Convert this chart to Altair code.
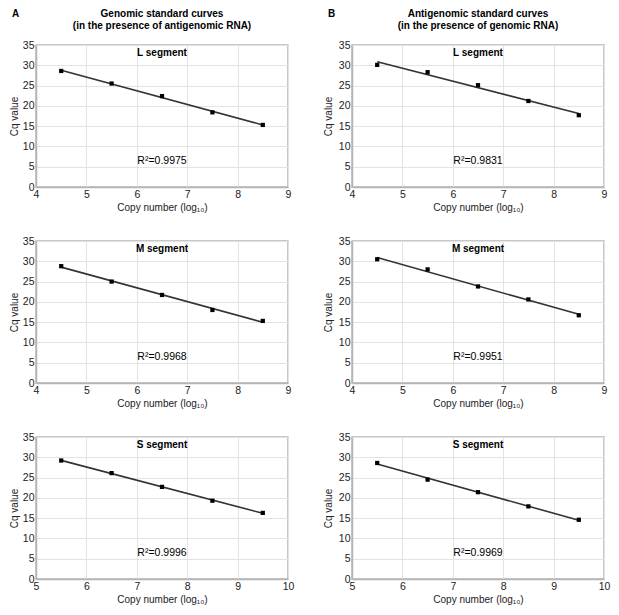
import altair as alt
import pandas as pd

x_lm = [4.5, 5.5, 6.5, 7.5, 8.5]
x_s = [5.5, 6.5, 7.5, 8.5, 9.5]

gen_L = [28.6, 25.5, 22.4, 18.4, 15.3]
gen_M = [28.8, 25.0, 21.7, 18.0, 15.3]
gen_S = [29.2, 26.1, 22.7, 19.3, 16.3]
anti_L = [30.1, 28.3, 25.1, 21.2, 17.7]
anti_M = [30.5, 28.0, 23.8, 20.6, 16.7]
anti_S = [28.6, 24.5, 21.4, 17.9, 14.6]

r2_gen = ["R²=0.9975", "R²=0.9968", "R²=0.9996"]
r2_anti = ["R²=0.9831", "R²=0.9951", "R²=0.9969"]
segments = ["L segment", "M segment", "S segment"]

head_A = ["Genomic standard curves", "(in the presence of antigenomic RNA)"]
head_B = ["Antigenomic standard curves", "(in the presence of genomic RNA)"]

FONT = "Liberation Sans"
H = 142


def panel(xs, ys, seg, r2, xdom, width, ytp, header=None, letter=None):
    df = pd.DataFrame({"x": xs, "y": ys})
    base = alt.Chart(df)
    xenc = alt.X("x:Q", scale=alt.Scale(domain=xdom, nice=False),
                 axis=alt.Axis(title="Copy number (log₁₀)", values=list(range(xdom[0], xdom[1] + 1))))
    yenc = alt.Y("y:Q", scale=alt.Scale(domain=[0, 35], nice=False),
                 axis=alt.Axis(title="Cq value", values=list(range(0, 36, 5)), titlePadding=ytp))
    line = base.transform_regression("x", "y").mark_line(color="#333333", strokeWidth=1.6).encode(x=xenc, y=yenc)
    pts = base.mark_square(size=18, color="black", opacity=1).encode(x=xenc, y=yenc)
    seg_t = alt.Chart(pd.DataFrame({"t": [seg]})).mark_text(
        font=FONT, fontWeight="bold", fontSize=10, baseline="middle"
    ).encode(text="t:N", x=alt.value(width / 2), y=alt.value(8))
    r2_t = alt.Chart(pd.DataFrame({"t": [r2]})).mark_text(
        font=FONT, fontSize=10.5, baseline="middle"
    ).encode(text="t:N", x=alt.value(width / 2), y=alt.value(116))
    layers = [line, pts, seg_t, r2_t]
    if header is not None:
        for txt, yy in zip(header, [-31, -19]):
            hd = alt.Chart(pd.DataFrame({"t": [txt]})).mark_text(
                font=FONT, fontWeight="bold", fontSize=10, baseline="middle"
            ).encode(text="t:N", x=alt.value(width / 2), y=alt.value(yy))
            layers.append(hd)
    if letter is not None:
        lt = alt.Chart(pd.DataFrame({"t": [letter]})).mark_text(
            font=FONT, fontWeight="bold", fontSize=10, baseline="middle", align="left"
        ).encode(text="t:N", x=alt.value(-24), y=alt.value(-31))
        layers.append(lt)
    return alt.layer(*layers).properties(width=width, height=H)


WA, WB = 252, 252

colA = alt.vconcat(
    panel(x_lm, gen_L, segments[0], r2_gen[0], [4, 9], WA, 3, head_A, "A"),
    panel(x_lm, gen_M, segments[1], r2_gen[1], [4, 9], WA, 3),
    panel(x_s, gen_S, segments[2], r2_gen[2], [5, 10], WA, 3),
    spacing=21,
)
colB = alt.vconcat(
    panel(x_lm, anti_L, segments[0], r2_anti[0], [4, 9], WB, 5, head_B, "B"),
    panel(x_lm, anti_M, segments[1], r2_anti[1], [4, 9], WB, 5),
    panel(x_s, anti_S, segments[2], r2_anti[2], [5, 10], WB, 5),
    spacing=21,
)

chart = alt.hconcat(colA, colB, spacing=27).properties(padding=0).configure_view(
    stroke="#b5b5b5", strokeWidth=1.5
).configure_axis(
    labelFont=FONT, titleFont=FONT, labelFontSize=10.5, titleFontSize=10,
    titleFontWeight="normal", labelColor="#222222", titleColor="#222222",
    gridColor="#e3e3e3", gridWidth=1, domainColor="#b5b5b5", domainWidth=1.5,
    ticks=False, labelPadding=2, titlePadding=3, labelFlush=False,
).configure_axisX(titlePadding=3)

chart.save("out.html", embed_options={"renderer": "svg", "actions": False})
